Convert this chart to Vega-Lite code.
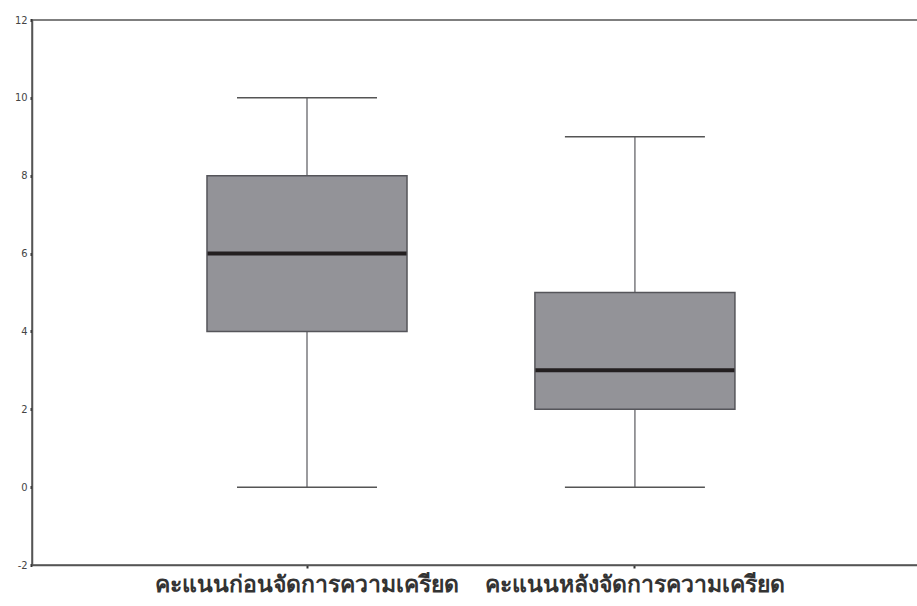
{
  "$schema": "https://vega.github.io/schema/vega-lite/v6.json",
  "autosize": "none",
  "width": 888,
  "height": 545,
  "padding": {"left": 32, "top": 20, "right": 0, "bottom": 41},
  "background": "white",
  "config": {
    "view": {"stroke": "#555555", "strokeWidth": 1.5},
    "axis": {"grid": false, "domainColor": "#555555", "domainWidth": 1.5, "tickColor": "#333333"}
  },
  "data": {
    "values": [
      {"group": "คะแนนก่อนจัดการความเครียด", "min": 0, "q1": 4, "median": 6, "q3": 8, "max": 10},
      {"group": "คะแนนหลังจัดการความเครียด", "min": 0, "q1": 2, "median": 3, "q3": 5, "max": 9}
    ]
  },
  "encoding": {
    "x": {
      "field": "group",
      "type": "nominal",
      "sort": null,
      "scale": {"paddingInner": 0.39, "paddingOuter": 0.549, "align": 0.486},
      "axis": {
        "title": null,
        "labelAngle": 0,
        "labelLimit": 0,
        "labelFont": "DejaVu Sans",
        "labelFontSize": 23,
        "labelFontWeight": "bold",
        "labelColor": "#333333",
        "labelPadding": 5,
        "tickSize": 3,
        "tickWidth": 2,
        "domain": true
      }
    }
  },
  "layer": [
    {
      "mark": {"type": "rule", "color": "#7a7a7e", "strokeWidth": 1.5},
      "encoding": {
        "y": {
          "field": "min",
          "type": "quantitative",
          "scale": {"domain": [-2, 12], "nice": false, "zero": false},
          "axis": {
            "title": null,
            "values": [-2, 0, 2, 4, 6, 8, 10, 12],
            "labelExpr": "'' + datum.value",
            "labelFont": "DejaVu Sans Condensed",
            "labelFontSize": 11,
            "labelColor": "#444444",
            "tickSize": 2,
            "tickWidth": 3,
            "labelPadding": 3
          }
        },
        "y2": {"field": "max"}
      }
    },
    {
      "mark": {"type": "bar", "fill": "#939398", "stroke": "#55555a", "strokeWidth": 1.5},
      "encoding": {
        "y": {"field": "q1", "type": "quantitative"},
        "y2": {"field": "q3"}
      }
    },
    {
      "mark": {"type": "tick", "color": "#231f20", "thickness": 4, "size": 199, "opacity": 1},
      "encoding": {"y": {"field": "median", "type": "quantitative"}}
    },
    {
      "mark": {"type": "tick", "color": "#555555", "thickness": 1.5, "size": 140, "opacity": 1},
      "encoding": {"y": {"field": "min", "type": "quantitative"}}
    },
    {
      "mark": {"type": "tick", "color": "#555555", "thickness": 1.5, "size": 140, "opacity": 1},
      "encoding": {"y": {"field": "max", "type": "quantitative"}}
    }
  ]
}
